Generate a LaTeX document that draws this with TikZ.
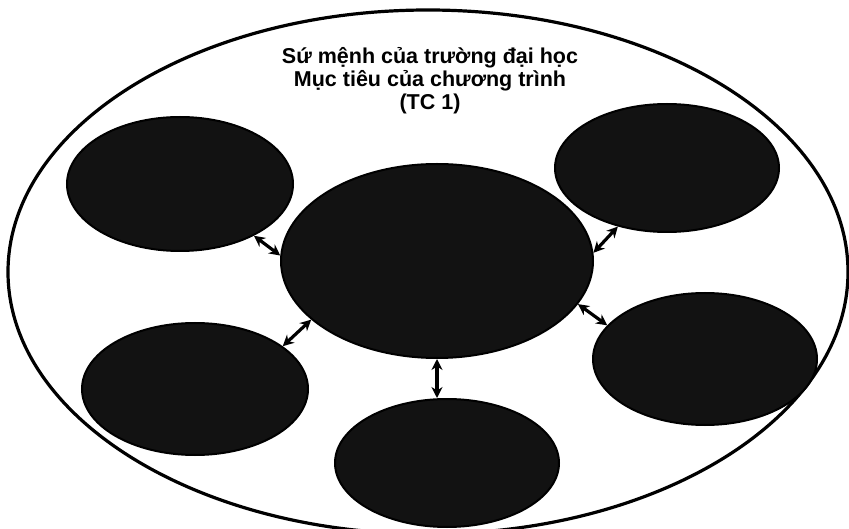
\documentclass[tikz,border=0pt]{standalone}
\usepackage{fontspec}
\setmainfont{Liberation Sans}
\usetikzlibrary{shapes.geometric,arrows.meta}

\tikzset{
  frame/.style={ellipse, draw=black, line width=3.2pt, inner sep=0pt},
  blob/.style={ellipse, draw=black, line width=2pt, fill=black!93, inner sep=0pt},
  link/.style={line width=3.2pt, {Stealth[length=11pt,width=11pt]}-{Stealth[length=11pt,width=11pt]}},
  heading/.style={font=\bfseries\fontsize{21.5}{23}\selectfont, align=center, inner sep=0pt}
}

\begin{document}
\begin{tikzpicture}[x=1pt, y=-1pt]
  \useasboundingbox (0,0) rectangle (849,529);

  % enclosing ellipse with its heading
  \node[frame, minimum width=840pt, minimum height=524pt] (outer) at (428,272) {};
  \node[heading] (title) at (430,81) {Sứ mệnh của trường đại học\\Mục tiêu của chương trình\\(TC 1)};

  % dark ellipses
  \node[blob, minimum width=312pt, minimum height=194pt] (hub) at (437,261) {};
  \node[blob, minimum width=226pt, minimum height=134pt] (tl) at (180,184) {};
  \node[blob, minimum width=224pt, minimum height=128pt] (tr) at (667,168) {};
  \node[blob, minimum width=226pt, minimum height=132pt] (bl) at (195,389) {};
  \node[blob, minimum width=224pt, minimum height=128pt] (bt) at (447,463) {};
  \node[blob, minimum width=224pt, minimum height=132pt] (br) at (705,359) {};

  % two-way links to the central ellipse
  \draw[link] (tl.-35) -- (hub.178);
  \draw[link] (tr.230) -- (hub.3);
  \draw[link] (bl.26) -- (hub.205);
  \draw[link] (hub.south) -- (hub.south |- bt.north);
  \draw[link] (br.161) -- (hub.-17);
\end{tikzpicture}
\end{document}
